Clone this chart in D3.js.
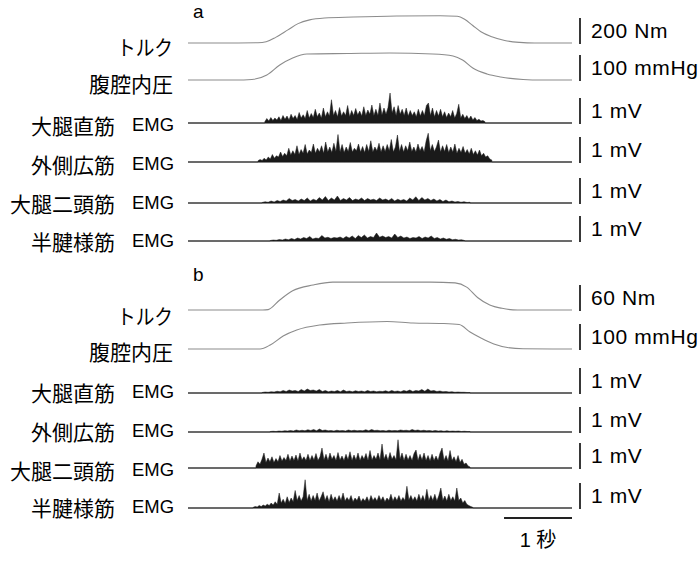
<!DOCTYPE html>
<html>
<head>
<meta charset="utf-8">
<script src="https://cdn.jsdelivr.net/npm/d3@7/dist/d3.min.js"></script>
<style>
body{margin:0;background:#ffffff;}
</style>
</head>
<body>
<svg id="chart" width="699" height="575"></svg>
<script>
//recording length in seconds
var duration = 5.65;

//row names and scale bar labels
var rowLabels = ['トルク','腹腔内圧','大腿直筋','外側広筋','大腿二頭筋','半腱様筋'];
var scaleLabelsA = ['200 Nm','100 mmHg','1 mV','1 mV','1 mV','1 mV'];
var scaleLabelsB = ['60 Nm','100 mmHg','1 mV','1 mV','1 mV','1 mV'];
var scaleValuesA = [200,100,1,1,1,1];
var scaleValuesB = [60,100,1,1,1,1];

//panel a torque (Nm)
var torqueA_t = [0,0.62,1.03,1.15,1.29,1.47,1.62,1.79,2.01,2.43,3.07,3.71,3.96,4.07,4.19,4.31,4.47,4.66,4.88,5.10,5.65];
var torqueA_v = [0,0,2,10,45,105,155,185,200,208,216,218,214,190,140,90,50,20,5,0,0];
//panel a intra-abdominal pressure (mmHg)
var iapA_t = [0,0.7,0.94,1.16,1.35,1.54,1.75,2.35,2.97,3.6,3.9,4.04,4.19,4.4,4.6,4.93,5.2,5.65];
var iapA_v = [0,0,2,20,60,88,104,106,108,104,96,80,48,24,12,2,0,0];

//panel b torque (Nm)
var torqueB_t = [0,1.1,1.18,1.35,1.54,1.84,2.13,2.84,3.57,3.93,4.1,4.26,4.44,4.62,4.85,5.65];
var torqueB_v = [0,0,1,24,46,60,67,67,67,65,55,30,12,4,0,0];
//panel b intra-abdominal pressure (mmHg)
var iapB_t = [0,0.94,1.06,1.21,1.4,1.6,1.94,2.34,2.93,3.31,3.74,3.99,4.15,4.31,4.5,4.7,4.93,5.65];
var iapB_v = [0,0,0,16,52,76,96,104,110,104,102,98,68,44,20,6,1,0];

//emg burst onset / offset (s)
var emgOnA = [1.13,1.03,1.09,1.21];
var emgOffA = [4.37,4.47,4.15,4.07];
var emgOnB = [1.09,1.21,1.00,0.96];
var emgOffB = [4.15,4.15,4.15,4.19];

//emg amplitudes (mV) panel a
var rfA = [0.05,0.18,0.08,0.22,0.1,0.2,0.12,0.25,0.1,0.3,
 0.15,0.28,0.12,0.35,0.18,0.3,0.14,0.42,0.2,0.33,
 0.18,0.5,0.2,0.38,0.22,0.55,0.25,0.4,0.2,0.6,
 0.25,0.45,0.28,0.93,0.3,0.5,0.25,0.62,0.28,0.45,
 0.3,0.7,0.25,0.5,0.3,0.58,0.32,0.48,0.28,0.65,
 0.3,0.52,0.35,0.72,0.3,0.55,0.3,0.8,0.32,0.6,
 0.35,0.62,1.2,0.4,0.65,0.3,0.7,0.35,0.55,0.3,
 0.6,0.28,0.5,0.3,0.45,0.25,0.55,0.28,0.5,0.3,
 0.7,0.8,0.3,0.6,0.25,0.5,0.28,0.55,0.25,0.45,
 0.22,0.4,0.25,0.5,0.2,0.38,0.75,0.2,0.35,0.18,
 0.3,0.15,0.28,0.12,0.22,0.1,0.15,0.08,0.1,0.05];
var vlA = [0.05,0.1,0.06,0.15,0.08,0.2,0.12,0.3,0.15,0.25,
 0.2,0.4,0.22,0.35,0.25,0.55,0.28,0.45,0.3,0.65,
 0.3,0.5,0.35,0.7,0.32,0.48,0.38,0.72,0.35,0.55,
 0.4,0.65,0.35,0.8,0.4,0.6,0.38,0.75,0.42,1.1,
 0.4,0.7,0.38,0.6,0.42,0.78,0.4,0.55,0.45,0.72,
 0.4,0.62,0.38,0.7,0.42,0.85,0.4,0.6,0.45,0.75,
 0.4,0.65,0.42,0.7,0.45,0.9,0.4,0.6,1.08,0.42,
 0.7,0.4,0.65,0.45,0.8,0.42,0.6,0.4,0.72,0.45,
 0.62,0.4,0.85,1.15,0.45,0.7,0.42,0.6,0.88,0.4,
 0.65,0.42,0.7,0.38,0.6,0.4,0.72,0.35,0.55,0.38,
 0.62,0.35,0.5,0.32,0.55,0.3,0.45,0.28,0.48,0.25,
 0.35,0.2,0.25,0.12,0.08];
var bfA = [0.02,0.05,0.03,0.08,0.04,0.1,0.06,0.12,0.08,0.18,
 0.1,0.14,0.08,0.16,0.1,0.2,0.08,0.15,0.1,0.22,
 0.12,0.26,0.1,0.2,0.12,0.28,0.1,0.18,0.12,0.22,
 0.1,0.16,0.12,0.2,0.1,0.18,0.12,0.15,0.1,0.2,
 0.12,0.16,0.1,0.18,0.08,0.15,0.1,0.14,0.08,0.2,
 0.12,0.25,0.1,0.22,0.12,0.18,0.1,0.16,0.08,0.14,
 0.06,0.12,0.05,0.08,0.04,0.06,0.03,0.05,0.02,0.03];
var stA = [0.02,0.04,0.03,0.06,0.04,0.08,0.05,0.1,0.06,0.12,
 0.08,0.14,0.1,0.18,0.08,0.12,0.1,0.22,0.12,0.15,
 0.1,0.14,0.12,0.16,0.1,0.18,0.12,0.2,0.1,0.22,
 0.14,0.24,0.12,0.18,0.14,0.32,0.15,0.2,0.14,0.18,
 0.12,0.28,0.14,0.2,0.12,0.16,0.1,0.14,0.12,0.18,
 0.1,0.16,0.12,0.2,0.1,0.14,0.08,0.12,0.07,0.1,
 0.05,0.07,0.04,0.05,0.02];

//emg amplitudes (mV) panel b
var rfB = [0.02,0.04,0.03,0.05,0.04,0.07,0.05,0.1,0.06,0.12,
 0.08,0.1,0.06,0.14,0.08,0.16,0.1,0.12,0.08,0.14,
 0.06,0.1,0.05,0.08,0.06,0.1,0.05,0.12,0.06,0.08,
 0.05,0.09,0.06,0.08,0.05,0.1,0.06,0.08,0.05,0.07,
 0.06,0.09,0.05,0.1,0.06,0.08,0.05,0.1,0.07,0.12,
 0.06,0.1,0.08,0.14,0.07,0.16,0.08,0.1,0.06,0.08,
 0.05,0.06,0.04,0.05,0.03,0.04,0.03,0.03,0.02,0.02];
var vlB = [0.02,0.03,0.02,0.04,0.03,0.05,0.04,0.06,0.04,0.08,
 0.05,0.07,0.05,0.09,0.06,0.1,0.05,0.12,0.06,0.08,
 0.05,0.06,0.04,0.07,0.05,0.06,0.04,0.08,0.05,0.07,
 0.05,0.06,0.05,0.09,0.05,0.1,0.06,0.07,0.05,0.06,
 0.04,0.07,0.05,0.06,0.05,0.08,0.06,0.07,0.05,0.1,
 0.06,0.08,0.05,0.07,0.05,0.06,0.04,0.06,0.04,0.05,
 0.03,0.05,0.03,0.04,0.03,0.04,0.02,0.03,0.02,0.02];
var bfB = [0.08,0.25,0.15,0.35,0.6,0.22,0.4,0.25,0.45,0.22,
 0.38,0.25,0.5,0.28,0.42,0.3,0.55,0.28,0.48,0.3,
 0.52,0.28,0.6,0.32,0.45,0.3,0.55,0.3,0.5,0.32,
 0.58,0.3,0.45,0.8,0.32,0.55,0.3,0.6,0.35,0.5,
 0.3,0.62,0.32,0.48,0.3,0.55,0.33,0.65,0.3,0.52,
 0.32,0.6,0.3,0.5,0.35,0.58,0.3,0.7,0.32,0.5,
 0.35,0.6,0.32,0.96,0.35,0.55,0.3,0.62,0.35,0.5,
 0.32,1.13,0.35,0.6,0.3,0.55,0.32,0.5,0.3,0.58,
 0.72,0.3,0.55,0.32,0.6,0.3,0.5,0.28,0.55,0.3,
 0.48,0.3,0.6,0.8,0.3,0.5,0.28,0.7,0.3,0.45,
 0.25,0.5,0.22,0.35,0.15,0.2,0.08,0.04];
var stB = [0.03,0.06,0.04,0.1,0.06,0.12,0.08,0.15,0.1,0.2,
 0.12,0.25,0.15,0.6,0.2,0.35,0.18,0.45,0.22,0.4,
 0.25,0.7,0.3,0.5,0.28,0.45,1.13,0.3,0.55,0.28,
 0.5,0.3,0.6,0.28,0.45,0.65,0.3,0.5,0.25,0.55,
 0.3,0.45,0.28,0.5,0.3,0.6,0.28,0.42,0.3,0.5,
 0.25,0.4,0.3,0.48,0.25,0.38,0.28,0.45,0.25,0.5,
 0.3,0.42,0.28,0.5,0.3,0.45,0.25,0.4,0.3,0.55,
 0.28,0.45,0.3,0.5,0.28,0.42,0.3,0.87,0.32,0.5,
 0.3,0.45,0.28,0.55,0.3,0.5,0.28,0.75,0.3,0.5,
 0.3,0.55,0.28,0.5,0.8,0.3,0.48,0.28,0.55,0.3,
 0.45,0.28,0.8,0.3,0.4,0.2,0.3,0.15,0.1,0.06,0.03];

//layout
var baselinesA = [43,80,123,162,203,241],
    baselinesB = [310,349,393,432,468,508],
    labelYA = [46,83,125,164,203,241],
    labelYB = [315,351,392,431,470,507],
    barHeight = 25;

var svg = d3.select('#chart');
var x = d3.scaleLinear().domain([0,duration]).range([188,572]);

var cjkFont = '"Noto Sans CJK JP","Noto Sans CJK SC",sans-serif',
    latinFont = '"Liberation Sans",Arial,sans-serif';

//draw one panel
var drawPanel = function(p){
    let g = svg.append('g').attr('class','panel');

    g.append('text')
     .text(p.letter)
     .attr('x',193).attr('y',p.letterY)
     .style('font-family',latinFont).style('font-size','19px');

    p.baselines.forEach((base,i)=>{
        let y = d3.scaleLinear().domain([0,p.scaleValues[i]]).range([base,base-barHeight]);

        if(i<2){
            //torque / pressure trace
            let series = i===0?p.torque:p.iap;
            let line = d3.line()
                         .x((d)=>x(d[0]))
                         .y((d)=>y(d[1]))
                         .curve(d3.curveMonotoneX);
            g.append('path')
             .datum(d3.zip(series.t,series.v))
             .attr('d',line)
             .style('fill','none')
             .style('stroke','#8c8c8c')
             .style('stroke-width',1.1);
        }else{
            //emg trace
            let k = i-2,
                vals = p.emg[k],
                on = p.emgOn[k],
                off = p.emgOff[k],
                dt = (off-on)/(vals.length-1);
            let pts = [[0,0],[on,0]].concat(vals.map((v,j)=>[on+j*dt,v]),[[off,0],[duration,0]]);
            g.append('line')
             .attr('x1',x(0)).attr('x2',x(duration))
             .attr('y1',base).attr('y2',base)
             .style('stroke','#555').style('stroke-width',1);
            let area = d3.area()
                         .x((d)=>x(d[0]))
                         .y0(base)
                         .y1((d)=>y(d[1]));
            g.append('path')
             .datum(pts)
             .attr('d',area)
             .style('fill','#1a1a1a')
             .style('stroke','#1a1a1a')
             .style('stroke-width',0.5);
        }

        //scale bar
        g.append('line')
         .attr('x1',580).attr('x2',580)
         .attr('y1',y(p.scaleValues[i])).attr('y2',base+1)
         .style('stroke','#222').style('stroke-width',1.8);
        g.append('text')
         .text(p.scaleLabels[i])
         .attr('x',591).attr('y',base-barHeight/2)
         .style('dominant-baseline','central')
         .style('letter-spacing','0.6px')
         .style('font-family',latinFont).style('font-size','21px');

        //row label
        let ly = p.labelY[i];
        let lbl = g.append('text')
         .text(rowLabels[i])
         .attr('x',i<2?173:115).attr('y',ly)
         .style('text-anchor','end')
         .style('dominant-baseline','central')
         .style('font-family',cjkFont).style('font-size','21px');
        if(i===0) lbl.attr('textLength',56).attr('lengthAdjust','spacingAndGlyphs');
        if(i>=2){
            g.append('text')
             .text('EMG')
             .attr('x',174).attr('y',ly)
             .style('text-anchor','end')
             .style('dominant-baseline','central')
             .attr('textLength',42)
             .attr('lengthAdjust','spacingAndGlyphs')
             .style('font-family',latinFont).style('font-size','17.5px');
        }
    });
};

drawPanel({letter:'a',letterY:18,baselines:baselinesA,labelY:labelYA,
    scaleValues:scaleValuesA,scaleLabels:scaleLabelsA,
    torque:{t:torqueA_t,v:torqueA_v},iap:{t:iapA_t,v:iapA_v},
    emg:[rfA,vlA,bfA,stA],emgOn:emgOnA,emgOff:emgOffA});

drawPanel({letter:'b',letterY:281,baselines:baselinesB,labelY:labelYB,
    scaleValues:scaleValuesB,scaleLabels:scaleLabelsB,
    torque:{t:torqueB_t,v:torqueB_v},iap:{t:iapB_t,v:iapB_v},
    emg:[rfB,vlB,bfB,stB],emgOn:emgOnB,emgOff:emgOffB});

//1 second time bar
svg.append('line')
   .attr('x1',x(duration-1)).attr('x2',x(duration))
   .attr('y1',518).attr('y2',518)
   .style('stroke','#222').style('stroke-width',1.8);
svg.append('text')
   .attr('x',(x(duration-1)+x(duration))/2).attr('y',547)
   .style('text-anchor','middle')
   .style('font-size','20px')
   .call((t)=>{
       t.append('tspan').text('1 ').style('font-family',latinFont);
       t.append('tspan').text('秒').style('font-family',cjkFont);
   });
</script>
</body>
</html>
